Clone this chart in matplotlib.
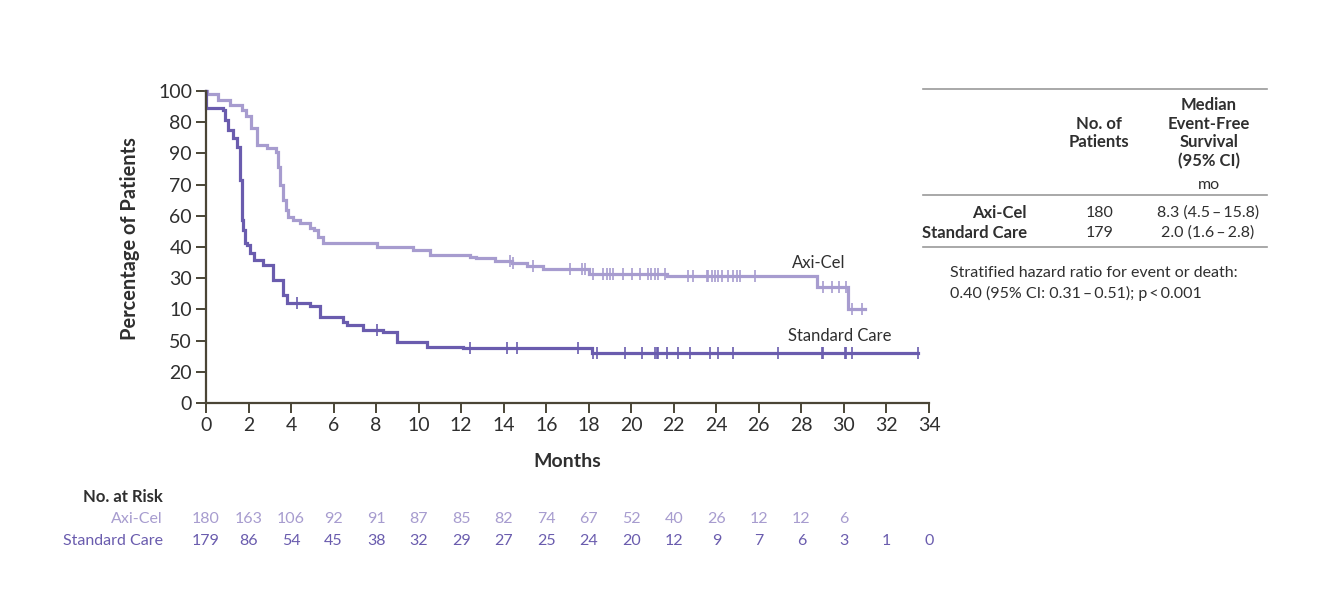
import numpy as np
import matplotlib.pyplot as plt
from matplotlib.lines import Line2D

plt.rcParams['font.family'] = ['Lato', 'DejaVu Sans']

# Axi-Cel step curve (months, percent after step)
axi_t = [0, 0.03, 0.56, 1.13, 1.68, 1.9, 2.1, 2.38, 2.85, 3.29, 3.39, 3.5, 3.62, 3.75,
         3.86, 4.1, 4.42, 4.89, 5.1, 5.27, 5.5, 8.02, 9.75, 10.53, 12.41, 12.7, 13.6,
         14.4, 15.08, 15.86, 18.0, 21.66, 28.71, 30.2, 30.98]
axi_s = [100, 99, 97, 95.5, 94, 92, 88, 82.7, 81.7, 80.5, 75.7, 70, 65, 62,
         59.7, 58.5, 57.7, 56, 55.4, 53.3, 51.2, 50.1, 49, 47.4, 46.9, 46.4, 45.6,
         44.8, 43.9, 42.8, 41.5, 40.7, 37.1, 30.1, 30.1]
axi_cens = [14.29, 14.43, 15.37, 17.11, 17.66, 17.82, 18.21, 18.68, 18.84, 18.99, 19.15,
            19.62, 20.01, 20.40, 20.79, 20.95, 21.11, 21.26, 21.58, 22.68, 22.91, 23.54,
            23.62, 23.78, 23.93, 24.09, 24.25, 24.56, 24.79, 24.95, 25.11, 25.81,
            29.0, 29.42, 29.77, 30.08, 30.4, 30.83]

# Standard care step curve
sc_t = [0, 0.02, 0.81, 0.89, 1.05, 1.27, 1.44, 1.6, 1.68, 1.75, 1.83, 1.91, 2.07, 2.27,
        2.69, 3.16, 3.63, 3.79, 4.89, 5.36, 6.45, 6.61, 7.4, 8.33, 8.97, 10.38, 12.1,
        18.13, 33.49]
sc_s = [100, 94.4, 94, 90.7, 87.5, 84.8, 82.2, 71.5, 58.7, 55.4, 51.3, 50.6, 48, 45.8,
        44.2, 39.4, 34.6, 32, 31, 27.7, 26, 25, 23.4, 22.9, 19.6, 18, 17.5,
        16.1, 16.1]
sc_cens = [4.26, 8.03, 12.41, 14.14, 14.64, 17.5, 18.21, 18.37, 19.71, 20.48, 21.11,
           21.19, 21.27, 21.66, 22.2, 22.75, 23.7, 24.09, 24.79, 26.91, 28.97, 29.02,
           30.04, 30.12, 30.36, 33.49]

ytick_vals = [0, 10, 20, 30, 40, 50, 60, 70, 80, 90, 100]
ytick_labels = ['0', '20', '50', '10', '30', '40', '60', '70', '90', '80', '100']
xtick_vals = list(range(0, 35, 2))

risk_times = list(range(0, 35, 2))
risk_axi = [180, 163, 106, 92, 91, 87, 85, 82, 74, 67, 52, 40, 26, 12, 12, 6]
risk_sc = [179, 86, 54, 45, 38, 32, 29, 27, 25, 24, 20, 12, 9, 7, 6, 3, 1, 0]

rows = ['Axi-Cel', 'Standard Care']
n_pat = ['180', '179']
median = ['8.3 (4.5\u2009\u2013\u200915.8)', '2.0 (1.6\u2009\u2013\u20092.8)']

c_axi = '#a79ccf'
c_sc = '#6a5cae'
c_axis = '#4a4536'
c_txt = '#2f2f2f'

W, H = 1318, 593
X0, X1, Y0, Y1 = 206, 929, 403, 91
fig = plt.figure(figsize=(W / 100, H / 100), dpi=100)
ax = fig.add_axes([X0 / W, 1 - Y0 / H, (X1 - X0) / W, (Y0 - Y1) / H])


def surv_at(t, times, surv):
    i = np.searchsorted(times, t, side='right') - 1
    return np.asarray(surv)[i]


for t, s, cens, col in [(axi_t, axi_s, axi_cens, c_axi), (sc_t, sc_s, sc_cens, c_sc)]:
    ax.step(t, s, where='post', color=col, lw=2.3, solid_joinstyle='miter', clip_on=False)
    ax.plot(cens, surv_at(cens, t, s), ls='none', marker='|', ms=9, mew=1.2,
            color=col, clip_on=False)

ax.set_xlim(0, 34)
ax.set_ylim(0, 100)
ax.set_xticks(xtick_vals)
ax.set_yticks(ytick_vals)
ax.set_yticklabels(ytick_labels)
for sp in ['top', 'right']:
    ax.spines[sp].set_visible(False)
for sp in ['left', 'bottom']:
    ax.spines[sp].set_color(c_axis)
    ax.spines[sp].set_linewidth(1.6)
ax.tick_params(colors=c_axis, labelcolor=c_txt, labelsize=14, length=7, width=1.4, pad=3)

ax.set_xlabel('Months', fontsize=14, fontweight='bold', color=c_txt, labelpad=13.5)
ax.set_ylabel('Percentage of Patients', fontsize=14.4, fontweight='bold', color=c_txt)
ax.yaxis.set_label_coords((140 - X0) / (X1 - X0), (Y0 - 239) / (Y0 - Y1))

ax.text(28.8, 45, 'Axi-Cel', fontsize=12, color=c_txt, ha='center', va='center')
ax.text(29.8, 21.5, 'Standard Care', fontsize=12, color=c_txt, ha='center', va='center')


def px_x(x):
    return x / W


def px_y(y):
    return 1 - y / H


# number at risk
fig.text(px_x(163), px_y(497), 'No. at Risk', fontsize=12, fontweight='bold',
         color=c_txt, ha='right', va='center')
fig.text(px_x(163), px_y(519), 'Axi-Cel', fontsize=11.5, color=c_axi, ha='right', va='center')
fig.text(px_x(163), px_y(541), 'Standard Care', fontsize=11.5, color=c_sc, ha='right', va='center')
for t, n in zip(risk_times, risk_axi):
    fig.text(px_x(X0 + t * (X1 - X0) / 34), px_y(519), str(n), fontsize=11.5,
             color=c_axi, ha='center', va='center')
for t, n in zip(risk_times, risk_sc):
    fig.text(px_x(X0 + t * (X1 - X0) / 34), px_y(541), str(n), fontsize=11.5,
             color=c_sc, ha='center', va='center')

# summary table on the right
lc = '#9a9a9a'
for y in [89, 195, 247]:
    fig.add_artist(Line2D([px_x(923), px_x(1267)], [px_y(y), px_y(y)], color=lc, lw=1.2))

fig.text(px_x(1099), px_y(133), 'No. of\nPatients', fontsize=12, fontweight='bold',
         color=c_txt, ha='center', va='center', linespacing=1.2)
fig.text(px_x(1209), px_y(133), 'Median\nEvent-Free\nSurvival\n(95% CI)', fontsize=12,
         fontweight='bold', color=c_txt, ha='center', va='center', linespacing=1.2)
fig.text(px_x(1209), px_y(185), 'mo', fontsize=11.5, color=c_txt, ha='center', va='center')

for y, r, n, m in zip([213, 233], rows, n_pat, median):
    fig.text(px_x(1027), px_y(y), r, fontsize=12, fontweight='bold', color=c_txt,
             ha='right', va='center')
    fig.text(px_x(1100), px_y(y), n, fontsize=11.5, color=c_txt, ha='center', va='center')
    fig.text(px_x(1208), px_y(y), m, fontsize=11.5, color=c_txt, ha='center', va='center')

fig.text(px_x(950), px_y(273), 'Stratified hazard ratio for event or death:', fontsize=11.5,
         color=c_txt, ha='left', va='center')
fig.text(px_x(950), px_y(293), '0.40 (95% CI: 0.31\u2009\u2013\u20090.51); p\u2009<\u20090.001',
         fontsize=11.5, color=c_txt, ha='left', va='center')

fig.savefig('out.png', dpi=100)
